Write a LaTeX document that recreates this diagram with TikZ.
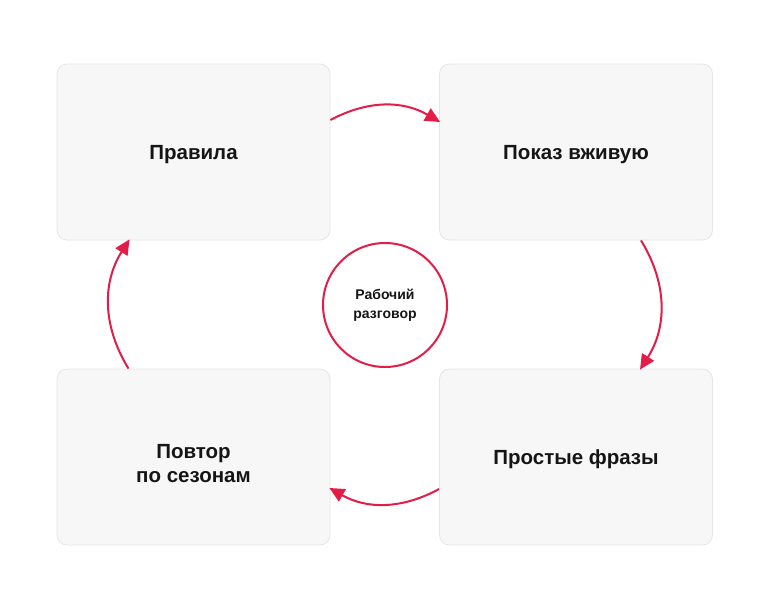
\documentclass[tikz,border=0pt]{standalone}
\usepackage{fontspec}
\setmainfont{Liberation Sans}
\usetikzlibrary{arrows.meta}
\definecolor{accent}{HTML}{E11D48}
\definecolor{boxfill}{HTML}{F7F7F7}
\definecolor{boxline}{HTML}{E6E6E6}
\definecolor{ink}{HTML}{151515}
\tikzset{
  card/.style={draw=boxline, line width=0.8pt, fill=boxfill, rounded corners=10pt,
    minimum width=273pt, minimum height=176pt, inner sep=0pt, align=center,
    text depth=-6pt,
    text=ink, font=\bfseries\fontsize{20.5}{24}\selectfont},
  hub/.style={circle, draw=accent, line width=2pt, fill=white, minimum size=124pt,
    inner sep=0pt, align=center, text=ink, font=\bfseries\fontsize{14}{19}\selectfont},
  flow/.style={draw=accent, line width=2pt, -{Triangle[length=15pt,width=14pt]}}
}
\begin{document}
\begin{tikzpicture}[x=1pt,y=-1pt]
\useasboundingbox[fill=white] (0,0) rectangle (770,610);
\node[card] (A) at (193.5,152) {Правила};
\node[card] (B) at (576,152) {Показ вживую};
\node[card] (C) at (576,457) {Простые фразы};
\node[card] (D) at (193.5,457) {\raisebox{0.5pt}[\height][\depth]{\begin{tabular}{@{}c@{}}Повтор\\по сезонам\end{tabular}}};
\node[hub] (H) at (385,305) {Рабочий\\разговор};
\draw[flow] ([yshift=32pt]A.east) to[bend left=29] ([yshift=30pt,xshift=1pt]B.west);
\draw[flow] ([xshift=65pt]B.south) to[bend left=32] ([xshift=64pt,yshift=-1pt]C.north);
\draw[flow] ([yshift=-32pt]C.west) to[bend left=29] ([yshift=-31pt,xshift=-1pt]D.east);
\draw[flow] ([xshift=-65pt]D.north) to[bend left=32] ([xshift=-64pt,yshift=1pt]A.south);
\end{tikzpicture}
\end{document}
